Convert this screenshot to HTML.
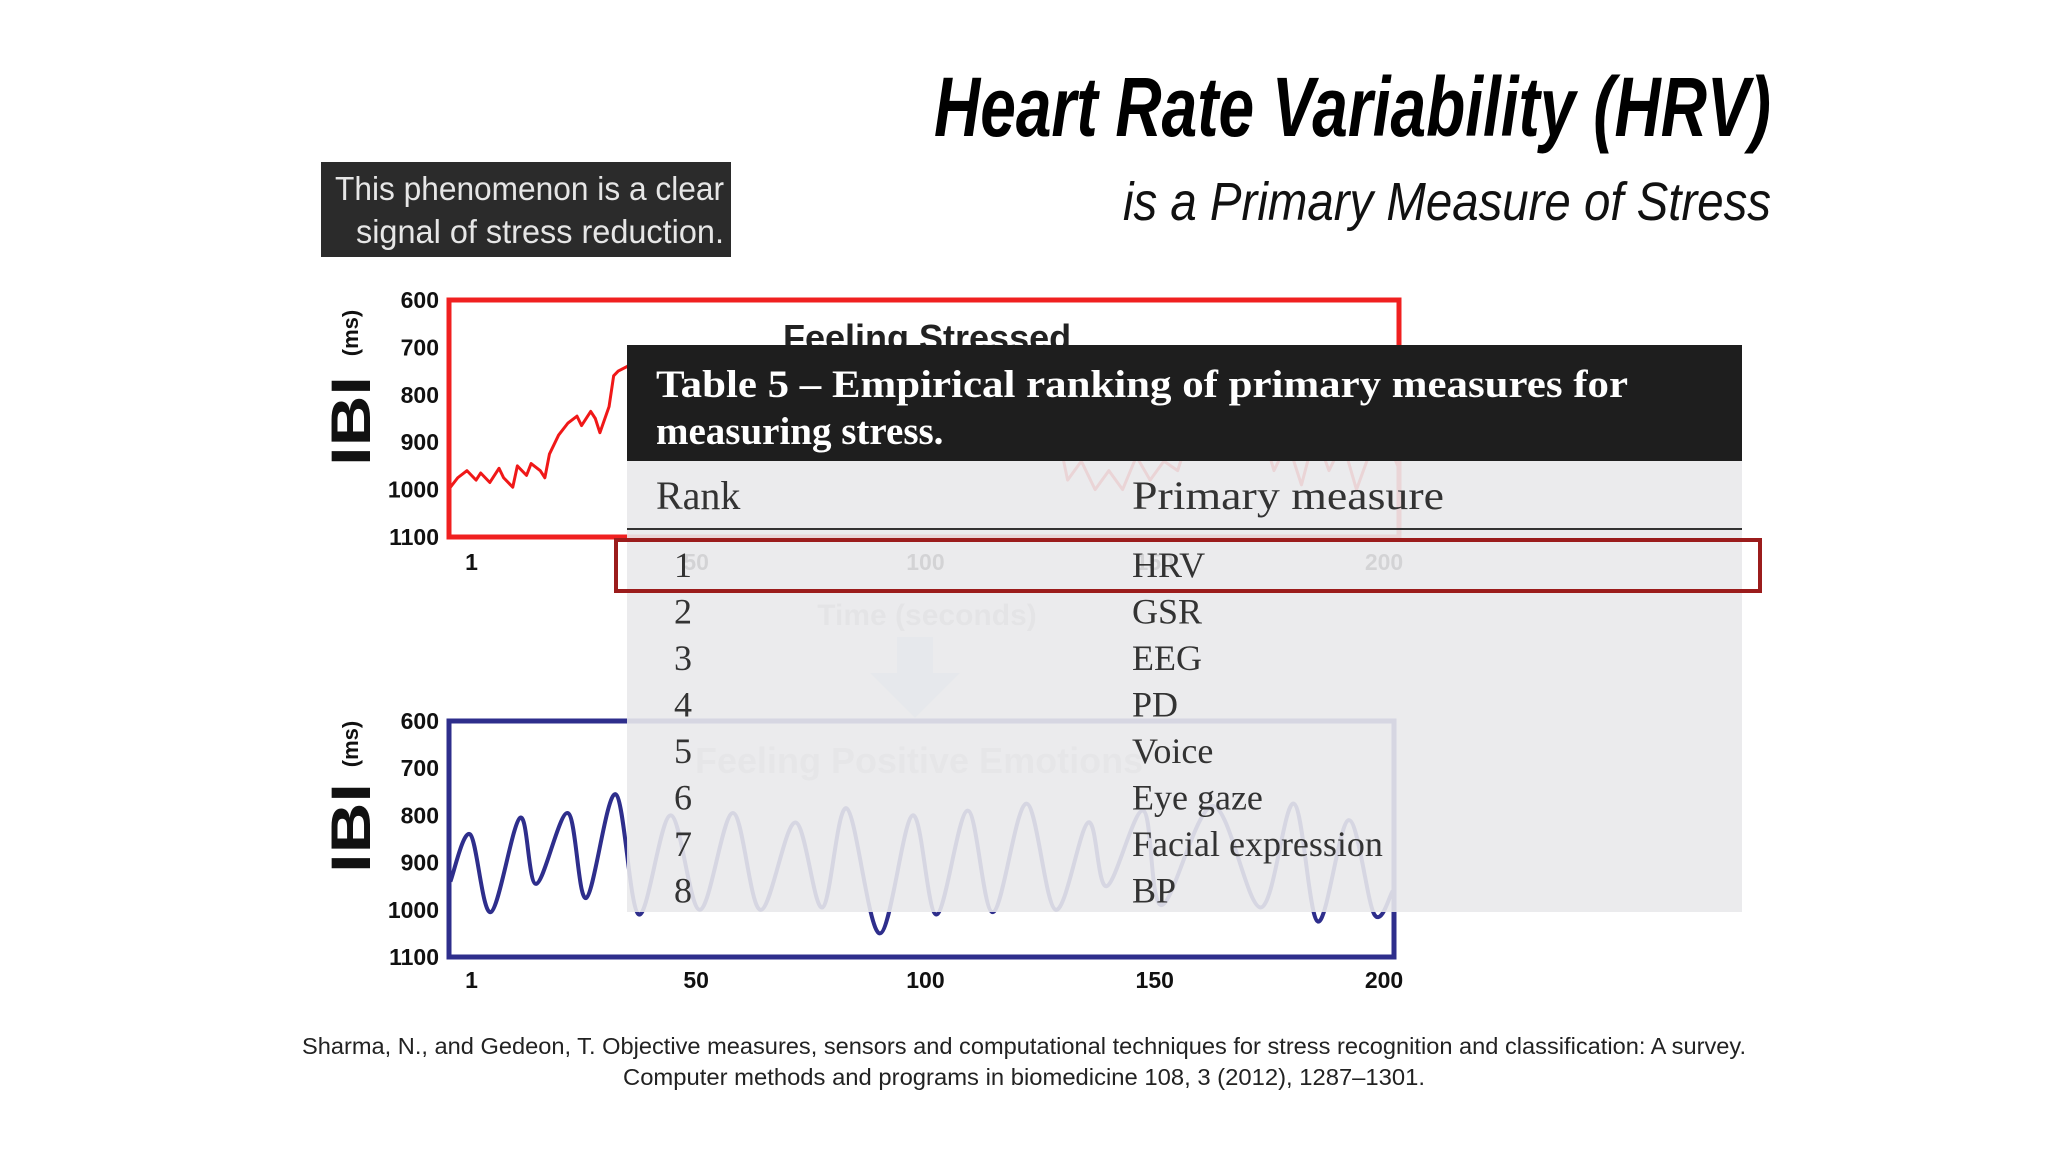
<!DOCTYPE html>
<html><head><meta charset="utf-8"><style>
html,body{margin:0;padding:0;background:#fff;}
svg{display:block;}
</style></head><body>
<svg id="slide" width="2048" height="1152" viewBox="0 0 2048 1152" xmlns="http://www.w3.org/2000/svg">
  <text x="1771" y="136" text-anchor="end" font-family="Liberation Sans, sans-serif" font-weight="bold" font-style="italic" font-size="84" textLength="837" lengthAdjust="spacingAndGlyphs" fill="#000">Heart Rate Variability (HRV)</text>
  <text x="1771" y="220" text-anchor="end" font-family="Liberation Sans, sans-serif" font-style="italic" font-size="54" textLength="648" lengthAdjust="spacingAndGlyphs" fill="#111">is a Primary Measure of Stress</text>

  <g>
    <rect x="321" y="162" width="410" height="95" fill="#2b2b2b"/>
    <text x="724" y="200" text-anchor="end" font-family="Liberation Sans, sans-serif" font-size="33" fill="#e6e6e6" textLength="389" lengthAdjust="spacingAndGlyphs">This phenomenon is a clear</text>
    <text x="724" y="243" text-anchor="end" font-family="Liberation Sans, sans-serif" font-size="33" fill="#e6e6e6" textLength="368" lengthAdjust="spacingAndGlyphs">signal of stress reduction.</text>
  </g>

  <g id="charts"></g>

  <text x="927" y="625" text-anchor="middle" font-family="Liberation Sans, sans-serif" font-weight="bold" font-size="30" fill="#bbb">Time (seconds)</text>
  <g>
    <rect x="897" y="637" width="36" height="36" fill="#c9dfee"/>
    <polygon points="870,673 960,673 915,718" fill="#c9dfee"/>
  </g>

  <g>
    <rect x="627" y="345" width="1115" height="567" fill="rgba(233,233,235,0.9)"/>
    <rect x="627" y="345" width="1115" height="116" fill="#1e1e1e"/>
    <text x="656" y="397" font-family="Liberation Serif, serif" font-weight="bold" font-size="39" fill="#fff" textLength="972" lengthAdjust="spacingAndGlyphs">Table 5 – Empirical ranking of primary measures for</text>
    <text x="656" y="444" font-family="Liberation Serif, serif" font-weight="bold" font-size="39" fill="#fff">measuring stress.</text>
    <text x="656" y="509" font-family="Liberation Serif, serif" font-size="40" fill="#333">Rank</text>
    <text x="1132" y="509" font-family="Liberation Serif, serif" font-size="40" fill="#333" textLength="312" lengthAdjust="spacingAndGlyphs">Primary measure</text>
    <line x1="627" y1="529" x2="1742" y2="529" stroke="#333" stroke-width="2"/>
    <g id="rows"></g>
    <rect x="616" y="540" width="1144" height="51" fill="none" stroke="#9b1c1c" stroke-width="4"/>
  </g>

  <g>
    <text x="1024" y="1054" text-anchor="middle" font-family="Liberation Sans, sans-serif" font-size="23" fill="#222" textLength="1444" lengthAdjust="spacingAndGlyphs">Sharma, N., and Gedeon, T. Objective measures, sensors and computational techniques for stress recognition and classification: A survey.</text>
    <text x="1024" y="1085" text-anchor="middle" font-family="Liberation Sans, sans-serif" font-size="23" fill="#222" textLength="802" lengthAdjust="spacingAndGlyphs">Computer methods and programs in biomedicine 108, 3 (2012), 1287–1301.</text>
  </g>
</svg>
<script>
const yTicks = [600, 700, 800, 900, 1000, 1100];
const xTicks = [1, 50, 100, 150, 200];
const stressTimes = [-4,-2,0,2,3,5,7,8,10,11,13,14,16,17,18,20,22,24,25,27,28,29,31,32,33,35,37,39,41,43,45,47,50,53,56,59,62,65,68,71,74,77,80,83,86,89,92,95,98,101,104,107,110,113,116,119,122,125,128,131,134,137,140,143,146,149,152,155,158,161,164,167,170,173,176,179,182,185,188,191,194,197,200,203];
const stressValues = [1000,975,960,980,965,985,955,975,995,950,970,945,960,975,925,885,860,845,865,835,850,880,825,760,750,740,720,745,770,790,760,800,820,850,830,880,860,900,840,880,820,870,800,860,830,790,900,860,800,850,780,820,860,800,830,770,810,880,840,980,940,1000,960,1000,930,980,940,960,870,900,840,880,800,860,960,900,990,880,960,900,1000,920,880,950];
const calmTimes = [-3.6,0.7,5.2,11.6,15.1,22,26,32.4,37.5,44.4,50.8,58,64,71.6,77.5,82.8,90,97.2,102.4,109.2,114.7,122,128.4,135.5,139.5,147.5,151.5,162.7,173.1,180.3,185.6,192.3,197.9,201.9];
const calmValues = [940,840,1005,805,945,795,975,755,1010,800,1000,795,1000,815,995,785,1050,800,1010,790,1005,775,1000,815,950,790,990,780,995,775,1025,810,1010,960];
const ranks = ["1","2","3","4","5","6","7","8"];
const measures = ["HRV","GSR","EEG","PD","Voice","Eye gaze","Facial expression","BP"];

const NS = "http://www.w3.org/2000/svg";
function mk(tag, attrs, parent){const e=document.createElementNS(NS,tag);for(const k in attrs)e.setAttribute(k,attrs[k]);parent.appendChild(e);return e;}
function smooth(pts){let d="M"+pts[0][0]+","+pts[0][1];for(let i=0;i<pts.length-1;i++){const p0=pts[i-1]||pts[i],p1=pts[i],p2=pts[i+1],p3=pts[i+2]||p2;const c1x=p1[0]+(p2[0]-p0[0])/6,c1y=p1[1]+(p2[1]-p0[1])/6,c2x=p2[0]-(p3[0]-p1[0])/6,c2y=p2[1]-(p3[1]-p1[1])/6;d+=" C"+c1x+","+c1y+" "+c2x+","+c2y+" "+p2[0]+","+p2[1];}return d;}

function drawChart(cfg){
  const g = mk("g",{},document.getElementById("charts"));
  
  
  const xs = t => 471.5 + (t-1)*(1384-471.5)/199;
  const ys = v => cfg.top + (v-600)*(cfg.bottom-cfg.top)/500;
  const pts = cfg.times.map((t,i)=>[xs(t), ys(cfg.values[i])]);
  const line = mk("path",{d: cfg.smooth?smooth(pts):"M"+pts.map(p=>p.join(",")).join(" L"), fill:"none", stroke:cfg.color, "stroke-width":cfg.smooth?4:3, "stroke-linejoin":"round"}, g);
  
  
  const frame = mk("rect",{x:449,y:cfg.top,width:cfg.right-449,height:cfg.bottom-cfg.top,fill:"none",stroke:cfg.frame,"stroke-width":5},g);
  
  
  yTicks.forEach(v=>{
    const t = mk("text",{x:439,y:ys(v)+8,"text-anchor":"end","font-family":"Liberation Sans, sans-serif","font-weight":"bold","font-size":23,fill:"#111"},g);
    t.textContent=v;
    
    
  });
  xTicks.forEach(v=>{
    const t = mk("text",{x:xs(v),y:cfg.xLabelY,"text-anchor":"middle","font-family":"Liberation Sans, sans-serif","font-weight":"bold","font-size":23,fill:"#111"},g);
    t.textContent=v;
    
    
  });
  const ibi = mk("text",{x:0,y:0,transform:"translate(370,"+cfg.ibiY+") rotate(-90)","text-anchor":"middle","font-family":"Liberation Sans, sans-serif","font-weight":"bold","font-size":56,textLength:90,lengthAdjust:"spacingAndGlyphs",fill:"#111"},g);
  ibi.textContent="IBI";
  
  
  const ms = mk("text",{x:0,y:0,transform:"translate(358,"+cfg.msY+") rotate(-90)","text-anchor":"middle","font-family":"Liberation Sans, sans-serif","font-weight":"bold","font-size":22,fill:"#111"},g);
  ms.textContent="(ms)";
  
  
  const title = mk("text",{x:cfg.titleX,y:cfg.titleY,"font-family":"Liberation Sans, sans-serif","font-weight":"bold","font-size":36,fill:cfg.titleColor},g);
  title.textContent=cfg.title;
  
  
}
drawChart({name:"stressed-chart",times:stressTimes,values:stressValues,color:"#f01818",frame:"#f02020",top:300,bottom:537,right:1399,xLabelY:570,ibiY:421,msY:333,title:"Feeling Stressed",titleX:783,titleY:350,titleColor:"#222",smooth:false});
drawChart({name:"calm-chart",times:calmTimes,values:calmValues,color:"#2e2e8c",frame:"#2e2e8c",top:721,bottom:957,right:1394,xLabelY:988,ibiY:828,msY:744,title:"Feeling Positive Emotions",titleX:695,titleY:773,titleColor:"#ccc",smooth:true});

const rowsG = document.getElementById("rows");
ranks.forEach((r,i)=>{
  const y = 577 + i*46.5;
  const a = mk("text",{x:674,y:y,"font-family":"Liberation Serif, serif","font-size":36,fill:"#333"},rowsG);
  a.textContent=r;
  
  
  const b = mk("text",{x:1132,y:y,"font-family":"Liberation Serif, serif","font-size":36,fill:"#333"},rowsG);
  b.textContent=measures[i];
  
  
});
</script>
</body></html>
